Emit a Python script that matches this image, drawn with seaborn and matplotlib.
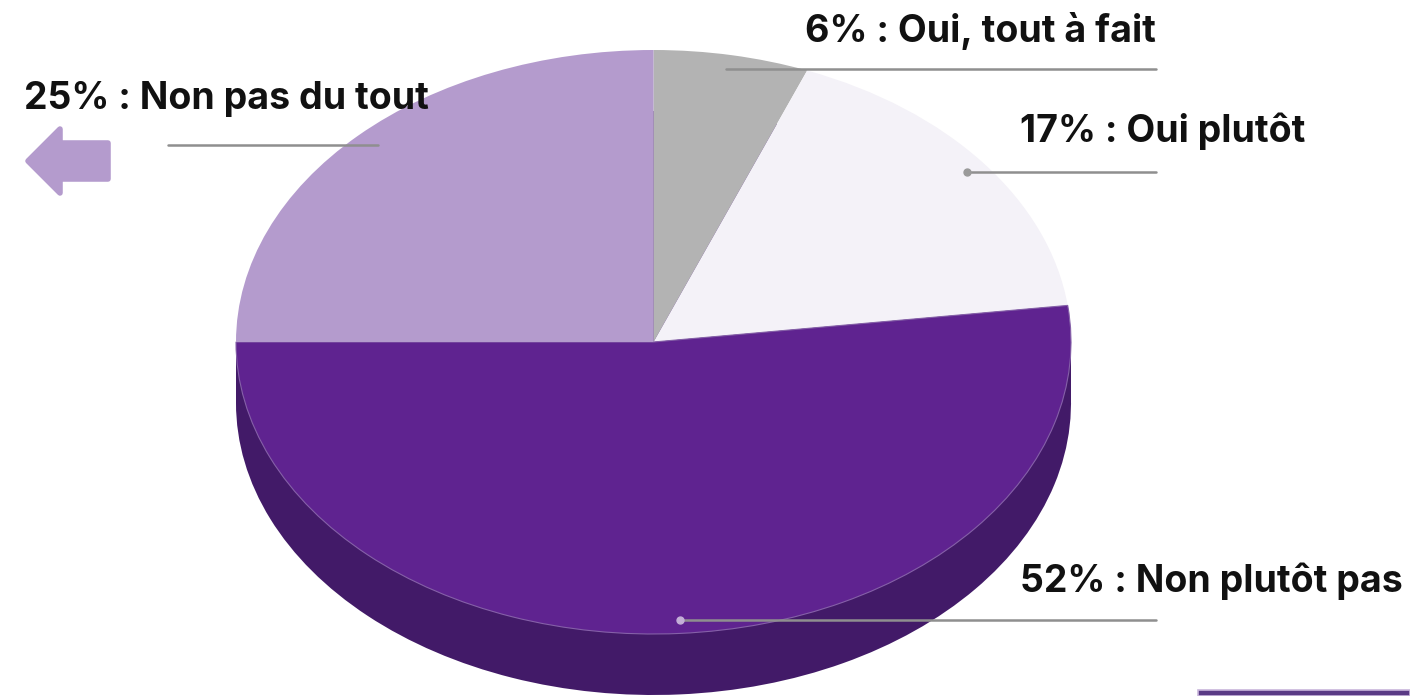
import matplotlib
matplotlib.use("Agg")
import matplotlib.pyplot as plt
import seaborn as sns

values = [6, 17, 52, 25]
labels = ["6% : Oui, tout à fait", "17% : Oui plutôt", "52% : Non plutôt pas", "25% : Non pas du tout"]
colors = ["#b3b3b3", "#f4f2f8", "#5f2390", "#b49bcd"]
side_color = "#421a68"

sns.set_theme(style="white")
plt.rcParams["font.family"] = ["Inter", "DejaVu Sans"]

W, H = 1410, 696
CX, CY, RX, RY, DEPTH = 653.5, 342, 417.5, 292, 61
def X(p): return (p - CX) / RX
def Y(p): return (CY - p) / RY

fig = plt.figure(figsize=(W / 100, H / 100), dpi=100, facecolor="white")
ax = fig.add_axes([0, 0, 1, 1])
palette = sns.color_palette(colors)

# side of the disc
d = DEPTH / RY
ax.pie(values, colors=[side_color] * 4, startangle=90, counterclock=False,
       center=(0, -d), radius=1, wedgeprops=dict(linewidth=0))
ax.fill_between([-1, 1], [0, 0], [-d, -d], color=side_color, linewidth=0)
# top of the disc
wedges, _ = ax.pie(values, colors=palette, startangle=90, counterclock=False,
                   center=(0, 0), radius=1, wedgeprops=dict(linewidth=0))
wedges[2].set_edgecolor("#8560a8")
wedges[2].set_linewidth(0.8)

ax.set_aspect("auto")
ax.set_xlim(X(0), X(W))
ax.set_ylim(Y(H), Y(0))
ax.axis("off")

# leader lines
line = dict(color="#8f8f8f", lw=1.8, solid_capstyle="round", zorder=5)
ax.plot([X(726), X(1156)], [Y(69), Y(69)], **line)
ax.plot([X(966), X(1156)], [Y(172), Y(172)], **line)
ax.plot([X(680), X(1156)], [Y(620), Y(620)], **line)
ax.plot([X(168), X(378)], [Y(145), Y(145)], **line)
ax.plot([X(967)], [Y(172)], "o", ms=5, color="#9a9a9a", zorder=6)
ax.plot([X(680)], [Y(620)], "o", ms=5, color="#c4afd8", zorder=6)

# labels
text = dict(fontsize=27, fontweight="bold", color="#111111", ha="left", va="baseline", zorder=7)
ax.text(X(805), Y(42), labels[0], **text)
ax.text(X(1020), Y(142), labels[1], **text)
ax.text(X(1020), Y(592), labels[2], **text)
ax.text(X(24), Y(109), labels[3], **text)

# left arrow
ax.fill([X(p) for p in (28, 60, 60, 108, 108, 60, 60)],
        [Y(p) for p in (161, 129, 143, 143, 179, 179, 193)],
        color=colors[3], lw=4, joinstyle="round", zorder=4)

# bottom-right bar
ax.fill([X(1198), X(1410), X(1410), X(1198)], [Y(696), Y(696), Y(690), Y(690)],
        facecolor="#5a3a85", edgecolor="#c9b6dc", lw=1.2, zorder=4)

fig.savefig("out.png", dpi=100, facecolor="white")
